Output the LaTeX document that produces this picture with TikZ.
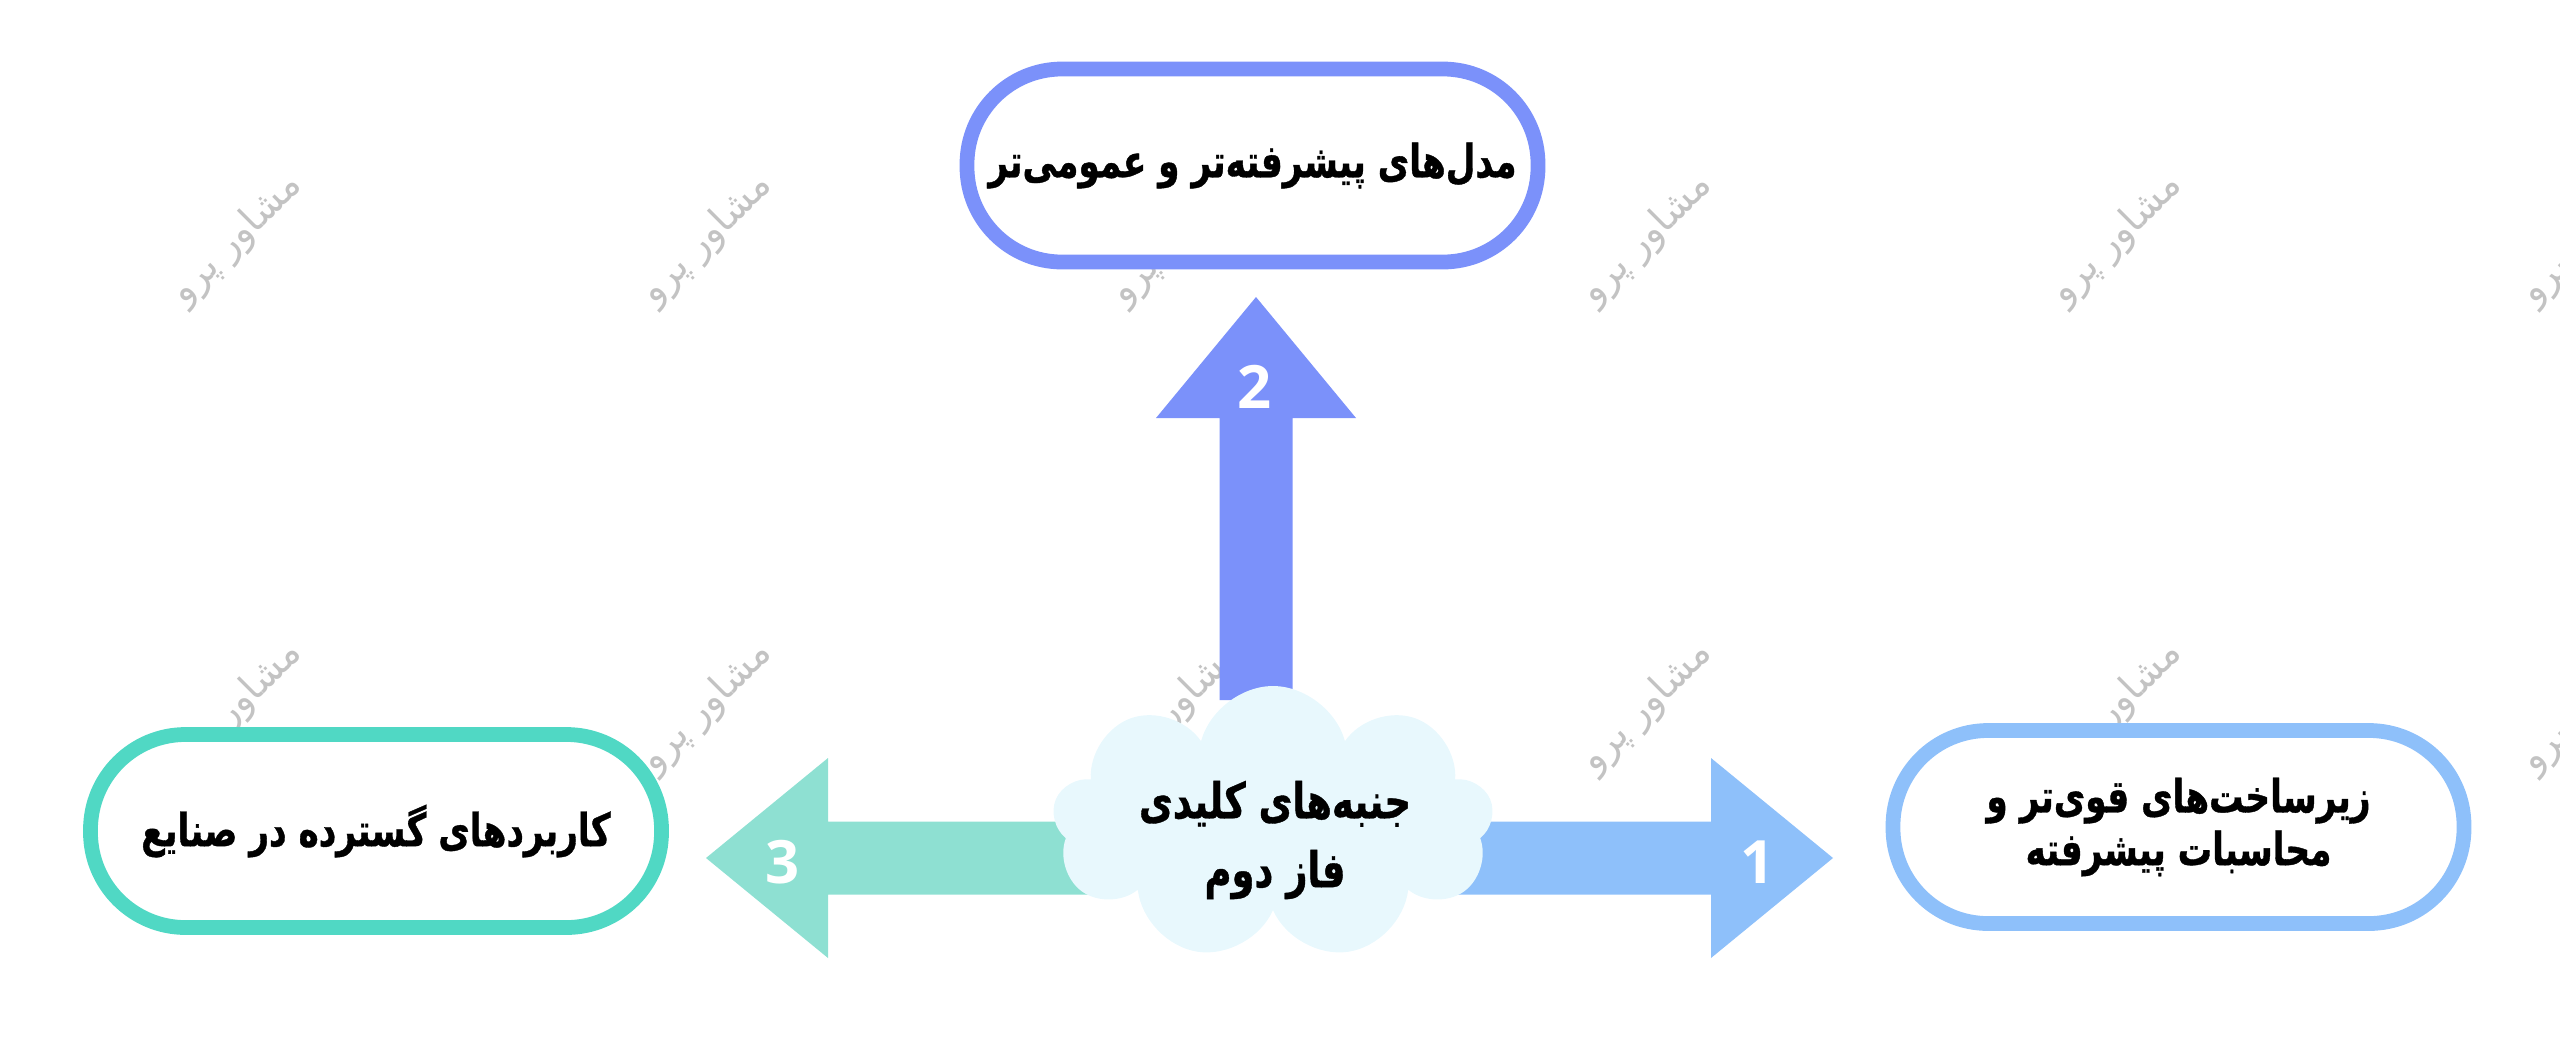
\documentclass[tikz,border=0pt]{standalone}
\usepackage{fontspec}
\usetikzlibrary{shapes.symbols}
\TeXXeTstate=1
\newfontfamily\fa[Script=Arabic,FakeStretch=0.75,BoldFeatures={FakeBold=0.8}]{DejaVu Sans}
\newfontfamily\wmfont[Script=Arabic]{DejaVu Sans}
\newfontfamily\numfont{Open Sans}
\definecolor{topblue}{RGB}{123,145,250}
\definecolor{rightblue}{RGB}{142,192,250}
\definecolor{leftteal}{RGB}{80,216,196}
\definecolor{arrowteal}{RGB}{142,224,210}
\definecolor{cloudfill}{RGB}{232,248,253}
\definecolor{wmgray}{RGB}{195,195,195}
\tikzset{
  pill/.style={draw,line width=4.2pt,fill=white,rounded corners=0.95cm,
    minimum width=5.71cm,minimum height=1.93cm,align=center,
    font=\fa\bfseries\fontsize{13}{15}\selectfont},
  num/.style={text=white,font=\numfont\bfseries\fontsize{17}{20}\selectfont},
  wmark/.style={text=wmgray,rotate=45,font=\wmfont\fontsize{11}{12}\selectfont},
}
\begin{document}
\begin{tikzpicture}
\useasboundingbox (0,0) rectangle (25.6,-10.5);
\def \hw{0.365}
\def \hh{1.0}
% watermarks
\foreach \i in {0,...,5}{
\foreach \j in {0,1}{
\node[wmark] (wm\i\j) at (2.37+4.7*\i,-2.39-4.68*\j) {\beginR مشاور پرو\endR};
}}

% arrows
\fill[topblue] (12.56-\hw,-7.0)--(12.56-\hw,-4.18)--(12.56-\hh,-4.18)--(12.56,-2.97)
  --(12.56+\hh,-4.18)--(12.56+\hw,-4.18)--(12.56+\hw,-7.0)--cycle;
\fill[arrowteal] (11.2,-8.58+\hw)--(8.28,-8.58+\hw)--(8.28,-8.58+\hh)--(7.06,-8.58)
  --(8.28,-8.58-\hh)--(8.28,-8.58-\hw)--(11.2,-8.58-\hw)--cycle;
\fill[rightblue] (14.3,-8.58+\hw)--(17.11,-8.58+\hw)--(17.11,-8.58+\hh)--(18.33,-8.58)
  --(17.11,-8.58-\hh)--(17.11,-8.58-\hw)--(14.3,-8.58-\hw)--cycle;
\node[num] (n2) at (12.55,-3.87) {2};
\node[num] (n3) at (7.83,-8.62) {3};
\node[num] (n1) at (17.58,-8.62) {1};

% centre
\node[cloud,cloud puffs=9,cloud ignores aspect,fill=cloudfill,inner sep=0pt,
  minimum width=4.41cm,minimum height=2.74cm] (core) at (12.73,-8.23) {};
\node[align=center,font=\fa\bfseries\fontsize{14}{19.6}\selectfont] (coretext) at (12.75,-8.40)
  {\beginR جنبه‌های کلیدی\endR\\\beginR فاز دوم\endR};

% boxes
\node[pill,draw=topblue] (models) at (12.525,-1.655) {\beginR مدل‌های پیشرفته‌تر و عمومی‌تر\endR};
\node[pill,draw=leftteal] (apps) at (3.76,-8.31) {\beginR کاربردهای گسترده در صنایع\endR};
\node[pill,draw=rightblue] (infra) at (21.785,-8.27)
  {\beginR زیرساخت‌های قوی‌تر و\endR\\\beginR محاسبات پیشرفته\endR};
\end{tikzpicture}
\end{document}
